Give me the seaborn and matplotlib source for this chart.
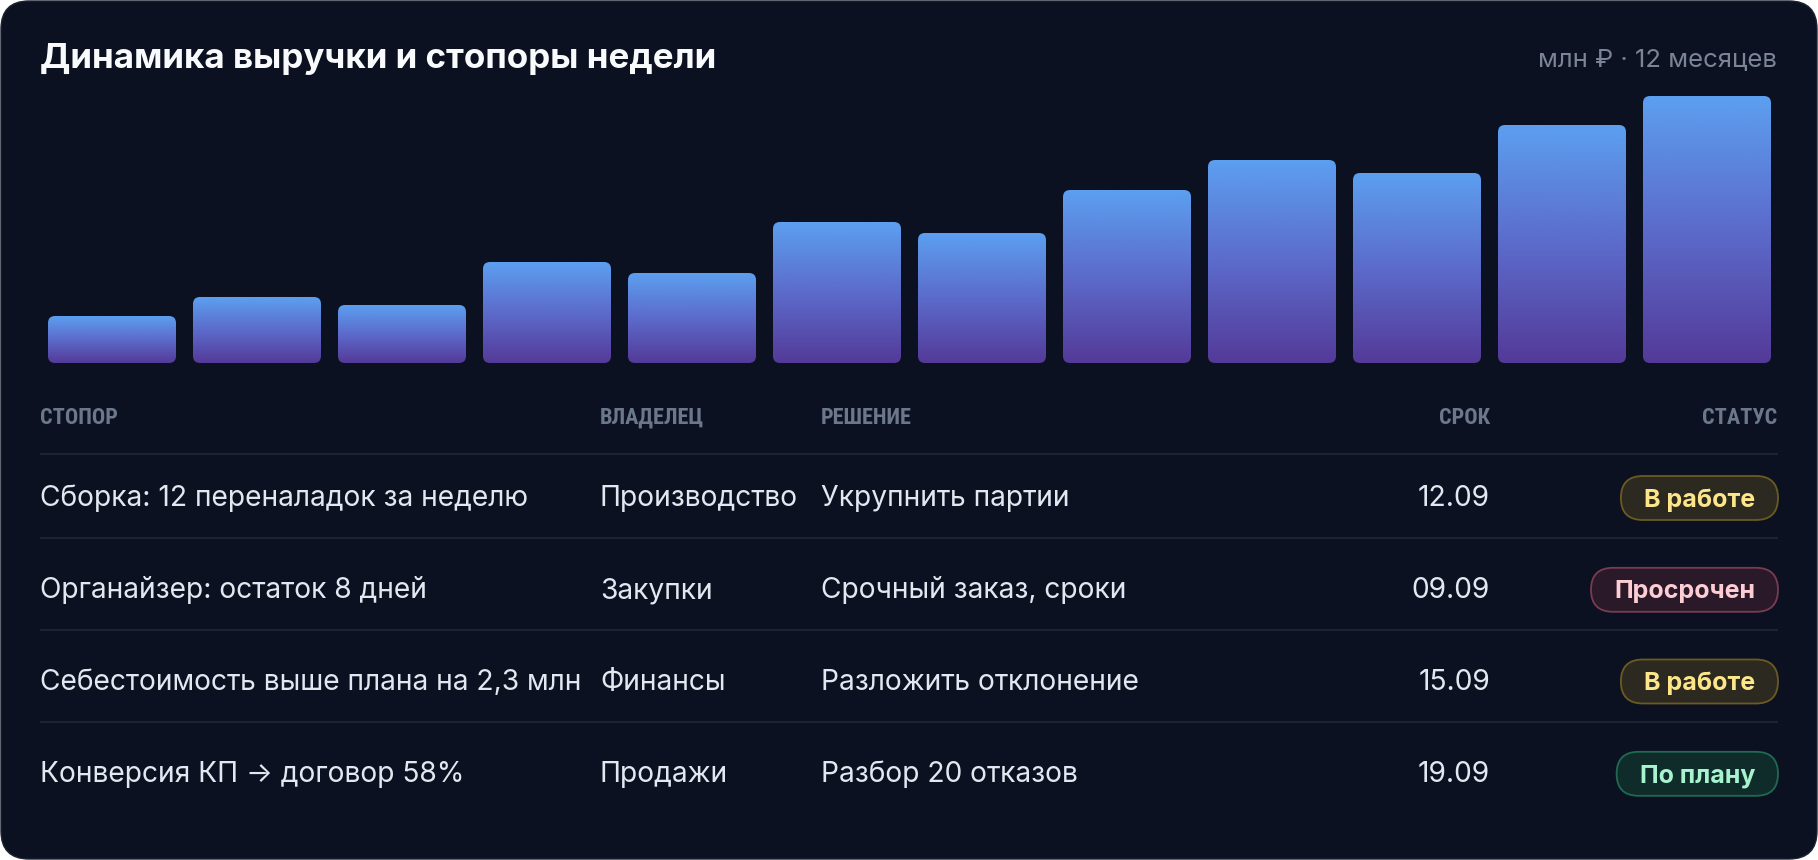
import numpy as np
import matplotlib.pyplot as plt
import seaborn as sns
from matplotlib import font_manager as fm
from matplotlib.patches import FancyBboxPatch
from matplotlib.colors import LinearSegmentedColormap

# Выручка по месяцам, млн ₽ (оценка по высоте столбцов)
months = ['Янв', 'Фев', 'Мар', 'Апр', 'Май', 'Июн',
          'Июл', 'Авг', 'Сен', 'Окт', 'Ноя', 'Дек']
revenue = [4.7, 6.6, 5.8, 10.1, 9.0, 14.1, 13.0, 17.3, 20.3, 19.0, 23.8, 26.7]

# Таблица стопоров
headers = ['СТОПОР', 'ВЛАДЕЛЕЦ', 'РЕШЕНИЕ', 'СРОК', 'СТАТУС']
blockers = ['Сборка: 12 переналадок за неделю',
            'Органайзер: остаток 8 дней',
            'Себестоимость выше плана на 2,3 млн',
            'Конверсия КП → договор 58%']
owners = ['Производство', 'Закупки', 'Финансы', 'Продажи']
actions = ['Укрупнить партии', 'Срочный заказ, сроки',
           'Разложить отклонение', 'Разбор 20 отказов']
deadlines = ['12.09', '09.09', '15.09', '19.09']
statuses = ['В работе', 'Просрочен', 'В работе', 'По плану']

# текст, заливка, обводка
status_style = {
    'В работе': ('#fde68a', '#2c2920', '#6b5a22'),
    'Просрочен': ('#fecdd3', '#2a1a29', '#7a3b52'),
    'По плану': ('#a7f3d0', '#0f2b2a', '#1f6a52'),
}

W, H = 1818, 860
BG = '#0b1120'
MAIN = ['Inter', 'DejaVu Sans']

names = {f.name for f in fm.fontManager.ttflist}
narrow = next((n for n in ['Liberation Sans Narrow', 'Roboto Condensed',
                           'DejaVu Sans Condensed', 'Open Sans Condensed',
                           'Noto Sans Condensed'] if n in names), None)
head_font = dict(family=[narrow] if narrow else ['Roboto'],
                 fontsize=16 if narrow else 13.5)

sns.set_theme(style='white')
plt.rcParams['font.family'] = MAIN

fig = plt.figure(figsize=(W / 100, H / 100), dpi=100, facecolor='white')

# фон-карточка и таблица в пиксельных координатах
bg = fig.add_axes([0, 0, 1, 1])
bg.set_xlim(0, W)
bg.set_ylim(H, 0)
bg.axis('off')
bg.add_patch(FancyBboxPatch((1, 1), W - 2, H - 2,
                            boxstyle='round,pad=0,rounding_size=28',
                            facecolor=BG, edgecolor='#1b2232', lw=1))

bg.text(40, 68, 'Динамика выручки и стопоры недели', fontsize=25.2,
        fontweight='bold', color='#f8fafc', ha='left', va='baseline')
bg.text(1777, 66, 'млн ₽ · 12 месяцев', fontsize=18.5, color='#7b8597',
        ha='right', va='baseline')

# колонки таблицы
col_x = [40, 600, 821, 1490, 1777]
col_ha = ['left', 'left', 'left', 'right', 'right']
for x, ha, label in zip(col_x, col_ha, headers):
    bg.text(x, 424, label, color='#6b778b', fontweight='bold', ha=ha,
            va='baseline', **head_font)

line_y = [454, 538, 630, 722]
for y in line_y:
    bg.plot([40, 1778], [y, y], color='#1c2333', lw=1.6, solid_capstyle='butt')

renderer = fig.canvas.get_renderer()
row_base = [506.5, 598.3, 690, 782.3]
for i, yb in enumerate(row_base):
    cells = [blockers[i], owners[i], actions[i], deadlines[i]]
    for x, ha, val in zip(col_x[:4], col_ha[:4], cells):
        bg.text(x, yb, val, fontsize=20.3, color='#e2e8f0', ha=ha, va='baseline')

    txt_c, fill_c, edge_c = status_style[statuses[i]]
    t = bg.text(0, yb, statuses[i], fontsize=18, fontweight='bold',
                color=txt_c, ha='center', va='baseline', zorder=4)
    tw = t.get_window_extent(renderer).width
    pw, ph = tw + 46, 44
    cx = 1778 - pw / 2
    t.set_x(cx)
    cy = yb - 8.5
    bg.add_patch(FancyBboxPatch((cx - pw / 2, cy - ph / 2), pw, ph,
                                boxstyle=f'round,pad=0,rounding_size={ph / 2}',
                                facecolor=fill_c, edgecolor=edge_c, lw=1.3,
                                zorder=3))

# столбцы выручки
ax = fig.add_axes([39.5 / W, 1 - 363 / H, 1740 / W, 267 / H])
ax.set_facecolor('none')
sns.barplot(x=months, y=revenue, ax=ax, width=128 / 145, color='#5b8be0')
ymax = max(revenue)
ax.set_xlim(-0.5, len(months) - 0.5)
ax.set_ylim(0, ymax)
ax.axis('off')

grad_cmap = LinearSegmentedColormap.from_list('bar', ['#543a98', '#5c6bcb', '#5c9ff0'])
grad = np.linspace(0, 1, 256).reshape(-1, 1)
rx = 7 * len(months) / 1740
ry = 7 * ymax / 267
for bar in list(ax.patches):
    x0, w, h = bar.get_x(), bar.get_width(), bar.get_height()
    bar.set_visible(False)
    clip = FancyBboxPatch((x0, 0), w, h,
                          boxstyle=f'round,pad=0,rounding_size={rx}',
                          mutation_aspect=ry / rx, facecolor='none',
                          edgecolor='none', transform=ax.transData)
    ax.add_patch(clip)
    im = ax.imshow(grad, cmap=grad_cmap, origin='lower', aspect='auto',
                   extent=[x0, x0 + w, 0, h], interpolation='bilinear')
    im.set_clip_path(clip)
ax.set_xlim(-0.5, len(months) - 0.5)
ax.set_ylim(0, ymax)

fig.savefig('out.png', dpi=100, facecolor='white')
